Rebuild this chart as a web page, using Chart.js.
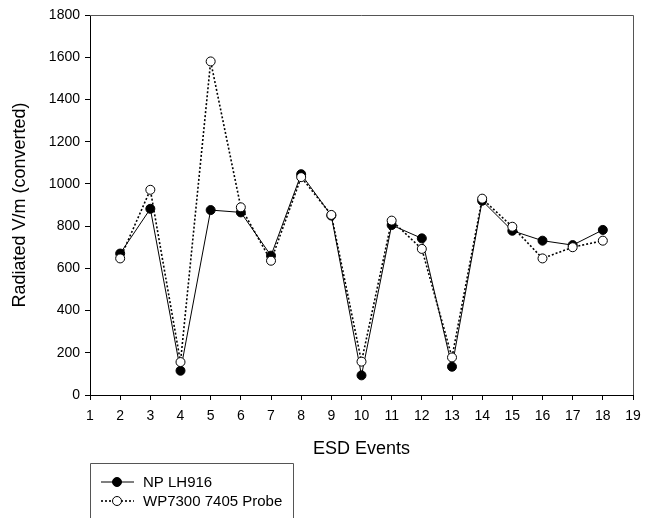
<!DOCTYPE html>
<html>
<head>
<meta charset="utf-8">
<script src="https://cdn.jsdelivr.net/npm/chart.js@4"></script>
<style>
  html, body { margin: 0; padding: 0; background: #fff; }
  #wrap { width: 654px; height: 518px; }
</style>
</head>
<body>
<div id="wrap"><canvas id="chart" width="654" height="518"></canvas></div>
<script>
// data
const events = [2, 3, 4, 5, 6, 7, 8, 9, 10, 11, 12, 13, 14, 15, 16, 17, 18];
const npLH916 = [670, 882, 115, 876, 865, 660, 1046, 850, 93, 805, 742, 134, 920, 778, 731, 710, 782];
const wp7300 = [647, 972, 156, 1580, 889, 636, 1032, 853, 158, 826, 692, 178, 930, 797, 647, 700, 731];
const seriesNames = ["NP LH916", "WP7300 7405 Probe"];
const xTitle = "ESD Events";
const yTitle = "Radiated V/m (converted)";

const FONT = "'Liberation Sans', Arial, sans-serif";

const toPoints = (ys) => events.map((x, i) => ({ x, y: ys[i] }));

// grey frame on top/right + boxed legend under the axis
const extras = {
  id: "extras",
  afterDraw(chart) {
    const { ctx, chartArea: a } = chart;
    ctx.save();
    ctx.strokeStyle = "#555";
    ctx.lineWidth = 1;
    ctx.beginPath();
    ctx.moveTo(a.left, a.top + 0.5);
    ctx.lineTo(a.right + 0.5, a.top + 0.5);
    ctx.lineTo(a.right + 0.5, a.bottom);
    ctx.stroke();

    // legend box (runs off the bottom like the original)
    const bx = a.left + 0.5, by = 463.5, bw = 203;
    ctx.beginPath();
    ctx.moveTo(bx, 520);
    ctx.lineTo(bx, by);
    ctx.lineTo(bx + bw, by);
    ctx.lineTo(bx + bw, 520);
    ctx.stroke();

    const rows = [482, 501];
    chart.data.datasets.forEach((ds, i) => {
      const y = rows[i];
      ctx.strokeStyle = "#000";
      ctx.lineWidth = ds.borderWidth;
      ctx.setLineDash(ds.borderDash || []);
      ctx.beginPath();
      ctx.moveTo(a.left + 11, y);
      ctx.lineTo(a.left + 44, y);
      ctx.stroke();
      ctx.setLineDash([]);
      ctx.beginPath();
      ctx.arc(a.left + 27, y, 4.5, 0, Math.PI * 2);
      ctx.fillStyle = ds.pointBackgroundColor;
      ctx.fill();
      ctx.lineWidth = 1;
      ctx.stroke();
      ctx.fillStyle = "#000";
      ctx.font = "15px " + FONT;
      ctx.textBaseline = "middle";
      ctx.fillText(ds.label, a.left + 53, y + 0.5);
    });
    ctx.restore();
  }
};

new Chart(document.getElementById("chart"), {
  type: "line",
  data: {
    datasets: [
      {
        label: seriesNames[0],
        data: toPoints(npLH916),
        borderColor: "#000",
        borderWidth: 1,
        pointRadius: 4.5,
        pointBackgroundColor: "#000",
        pointBorderColor: "#000",
        pointBorderWidth: 1,
        order: 2
      },
      {
        label: seriesNames[1],
        data: toPoints(wp7300),
        borderColor: "#000",
        borderWidth: 1.6,
        borderDash: [2, 2],
        pointRadius: 4.5,
        pointBackgroundColor: "#fff",
        pointBorderColor: "#000",
        pointBorderWidth: 1,
        order: 1
      }
    ]
  },
  options: {
    responsive: false,
    animation: false,
    layout: { padding: { top: 15, right: 21, left: 0, bottom: 0 } },
    plugins: {
      legend: { display: false },
      tooltip: { enabled: false }
    },
    scales: {
      x: {
        type: "linear",
        min: 1,
        max: 19,
        afterFit: (s) => { s.height = 123; },
        ticks: { stepSize: 1, color: "#000", padding: 8, font: { family: FONT, size: 14 } },
        grid: { drawOnChartArea: false, drawTicks: true, tickLength: 5, tickColor: "#000" },
        border: { color: "#000", width: 1 },
        title: {
          display: true, text: xTitle, color: "#000",
          font: { family: FONT, size: 18 }, padding: { top: 0, bottom: 58 }
        }
      },
      y: {
        min: 0,
        max: 1800,
        afterFit: (s) => { s.width = 90; },
        ticks: {
          stepSize: 200, color: "#000", padding: 5, font: { family: FONT, size: 14 },
          callback: (v) => String(v)
        },
        grid: { drawOnChartArea: false, drawTicks: true, tickLength: 5, tickColor: "#000" },
        border: { color: "#000", width: 1 },
        title: {
          display: true, text: yTitle, color: "#000",
          font: { family: FONT, size: 18 }, padding: { top: 9, bottom: 0 }
        }
      }
    }
  },
  plugins: [extras]
});
</script>
</body>
</html>
